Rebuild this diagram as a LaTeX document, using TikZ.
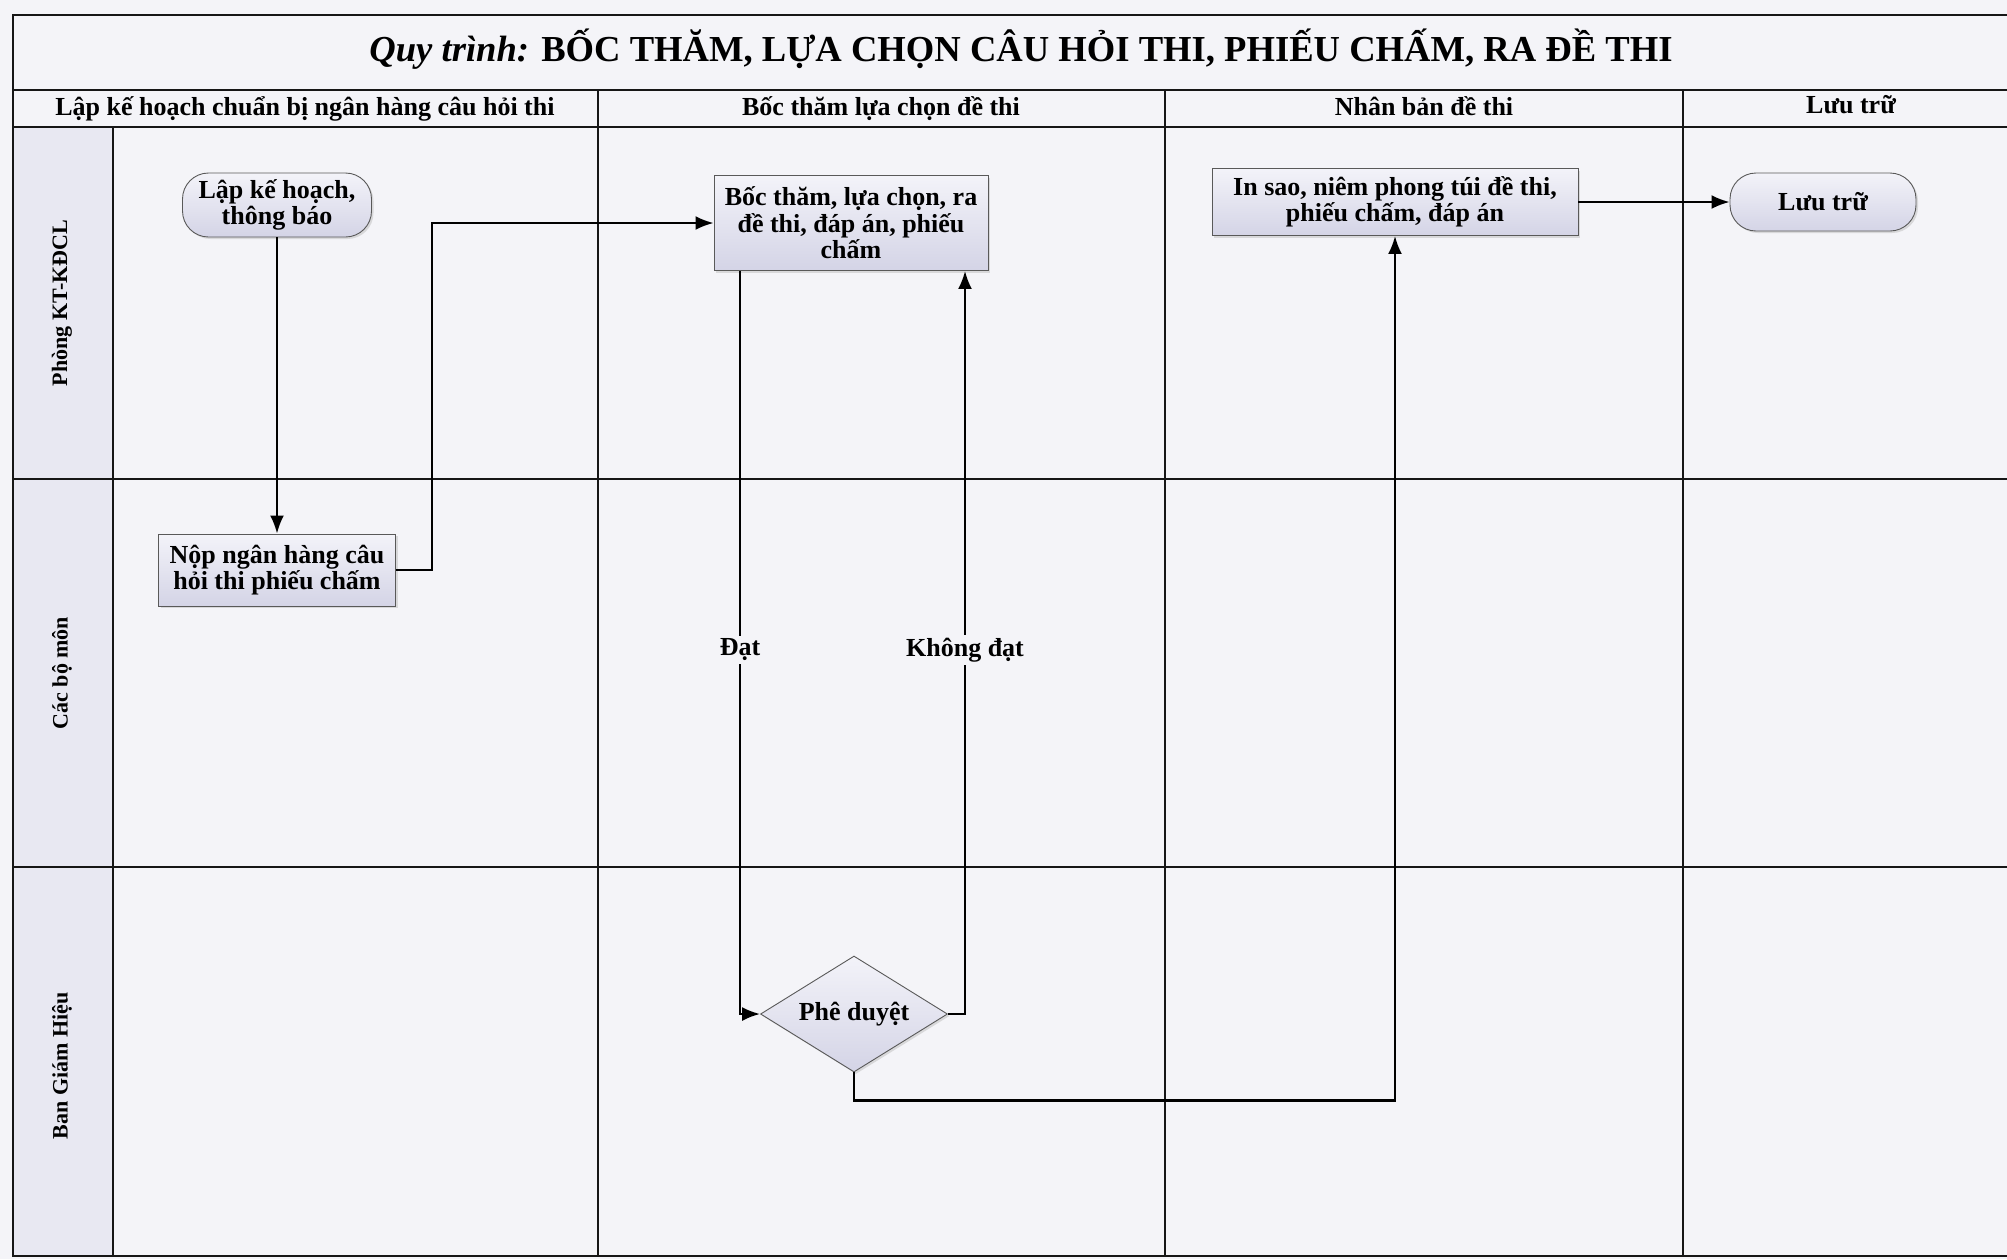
\documentclass[tikz,border=0pt]{standalone}
\usepackage{fontspec}
\setmainfont{Liberation Serif}
\usetikzlibrary{shapes.geometric,arrows.meta,shadows}
\definecolor{bgc}{HTML}{F4F4F8}
\definecolor{lanec}{HTML}{E8E8F2}
\definecolor{nodetop}{HTML}{F3F3F9}
\definecolor{nodebot}{HTML}{D4D4E6}
\definecolor{gridc}{HTML}{161616}
\begin{document}
\begin{tikzpicture}[x=1pt,y=-1pt,
  gridline/.style={draw=gridc,line width=2.2pt},
  txt/.style={font=\bfseries\fontsize{26}{26.5}\selectfont,align=center},
  hdr/.style={font=\bfseries\fontsize{26}{28}\selectfont,anchor=base},
  lanelbl/.style={font=\bfseries\fontsize{22}{26}\selectfont,rotate=90},
  boxbase/.style={txt,draw=gray!70!black,line width=0.9pt,top color=nodetop,bottom color=nodebot,
     drop shadow={shadow xshift=2pt,shadow yshift=-2pt,fill=gray!45,opacity=0.6},inner sep=2pt},
  proc/.style={boxbase,rectangle},
  term/.style={boxbase,rectangle,rounded corners=26pt},
  dec/.style={boxbase,diamond,aspect=1.6,inner sep=0pt},
  arr/.style={draw=black,line width=2.2pt,-{Latex[length=18pt,width=14pt]}},
  lbl/.style={txt,fill=bgc,inner sep=3pt}
]
\useasboundingbox (0,0) rectangle (2007,1259);
\fill[bgc] (0,0) rectangle (2007,1259);
\fill[lanec] (13,127) rectangle (113,1256);
% grid
\draw[gridline] (13,15) rectangle (2010,1256);
\draw[gridline] (13,90) -- (2010,90);
\draw[gridline] (13,127) -- (2010,127);
\draw[gridline] (113,127) -- (113,1256);
\draw[gridline] (598,90) -- (598,1256);
\draw[gridline] (1165,90) -- (1165,1256);
\draw[gridline] (1683,90) -- (1683,1256);
\draw[gridline] (13,479) -- (2010,479);
\draw[gridline] (13,867) -- (2010,867);
% title and headers
\node[font=\bfseries\fontsize{36.6}{40}\selectfont] (title) at (1021,49) {\textit{Quy trình:} BỐC THĂM, LỰA CHỌN CÂU HỎI THI, PHIẾU CHẤM, RA ĐỀ THI};
\node[hdr] (h1) at (305,115) {Lập kế hoạch chuẩn bị ngân hàng câu hỏi thi};
\node[hdr] (h2) at (881,115) {Bốc thăm lựa chọn đề thi};
\node[hdr] (h3) at (1424,115) {Nhân bản đề thi};
\node[hdr] (h4) at (1851,113) {Lưu trữ};
% lane labels
\node[lanelbl] (l1) at (62,303) {Phòng KT-KĐCL};
\node[lanelbl] (l2) at (62,673) {Các bộ môn};
\node[lanelbl] (l3) at (62,1066) {Ban Giám Hiệu};
% nodes
\node[term,minimum width=189pt,minimum height=64pt] (plan) at (277,205) {Lập kế hoạch,\\thông báo};
\node[proc,minimum width=237pt,minimum height=72pt] (submit) at (277,570) {Nộp ngân hàng câu\\hỏi thi phiếu chấm};
\node[proc,minimum width=274pt,minimum height=95pt] (select) at (851,223) {Bốc thăm, lựa chọn, ra\\đề thi, đáp án, phiếu\\chấm};
\node[proc,minimum width=366pt,minimum height=67pt] (print) at (1395,202) {In sao, niêm phong túi đề thi,\\phiếu chấm, đáp án};
\node[term,minimum width=186pt,minimum height=58pt] (archive) at (1823,202) {Lưu trữ};
\node[dec,minimum width=187pt,minimum height=116pt] (approve) at (854,1014) {Phê duyệt};
% connectors
\draw[arr] (plan.south) -- (submit.north);
\draw[arr] (submit.east) -- ++(36,0) |- (select.west);
\draw[arr] ([xshift=-111pt]select.south) |- node[lbl,pos=0.255] {Đạt} (approve.west);
\draw[arr] (approve.east) -| node[lbl,pos=0.745] {Không đạt} ([xshift=114pt]select.south);
\draw[arr] (approve.south) -- ++(0,28) -| (print.south);
\draw[arr] (print.east) -- (archive.west);
\end{tikzpicture}
\end{document}
